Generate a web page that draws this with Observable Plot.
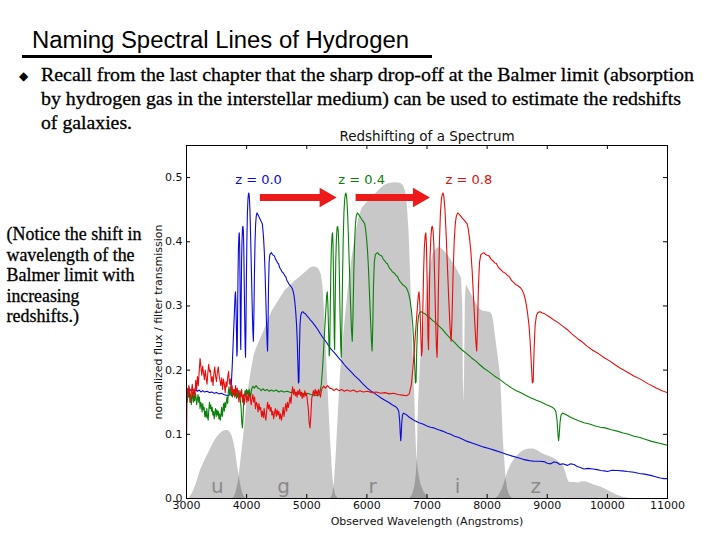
<!DOCTYPE html>
<html>
<head>
<meta charset="utf-8">
<script src="https://cdn.jsdelivr.net/npm/d3@7"></script>
<script src="https://cdn.jsdelivr.net/npm/@observablehq/plot@0.6"></script>
<style>
  html, body { margin: 0; padding: 0; background: #fff; }
  #page { position: relative; width: 720px; height: 540px; overflow: hidden; background: #fff; }
  #page svg { position: absolute; left: 0; top: 0; }
</style>
</head>
<body>
<div id="page"></div>
<script>
// ---------------- slide text ----------------
const slideTitle = "Naming Spectral Lines of Hydrogen";
const bulletLines = [
  "Recall from the last chapter that the sharp drop-off at the Balmer limit (absorption",
  "by hydrogen gas in the interstellar medium) can be used to estimate the redshifts",
  "of galaxies."
];
const noteLines = ["(Notice the shift in", "wavelength of the", "Balmer limit with", "increasing", "redshifts.)"];

// ---------------- chart text ----------------
const chartTitle = "Redshifting of a Spectrum";
const xLabel = "Observed Wavelength (Angstroms)";
const yLabel = "normalized flux / filter transmission";
const xTicks = [3000, 4000, 5000, 6000, 7000, 8000, 9000, 10000, 11000];
const yTicks = [0.0, 0.1, 0.2, 0.3, 0.4, 0.5];

// ---------------- series ----------------
const redshifts = [0.0, 0.4, 0.8];
const zLabels = ["z = 0.0", "z = 0.4", "z = 0.8"];
const zLabelX = [4198, 5912, 7696];
const zLabelY = 0.497;
const seriesColors = ["#0a0adc", "#0a800a", "#e80c0c"];

// arrows (observed wavelength of start / tip, flux level)
const arrowStart = [4420, 6012];
const arrowEnd = [5508, 7060];
const arrowY = 0.469;

// rest-frame spectrum [wavelength (A), normalized flux]
const restSpectrum = [
[1667,0.096],[1672,0.172],[1680,0.160],[1688,0.176],[1696,0.168],[1704,0.150],[1712,0.166],[1720,0.178],
[1728,0.160],[1736,0.171],[1744,0.158],[1752,0.184],[1760,0.170],[1768,0.190],[1776,0.176],[1784,0.198],
[1792,0.218],[1800,0.205],[1808,0.192],[1816,0.206],[1824,0.196],[1832,0.185],[1840,0.200],[1848,0.188],
[1856,0.178],[1864,0.196],[1872,0.209],[1880,0.197],[1888,0.200],[1896,0.182],[1904,0.190],[1912,0.176],
[1920,0.195],[1928,0.205],[1936,0.190],[1944,0.182],[1952,0.197],[1960,0.205],[1968,0.192],[1976,0.184],
[1984,0.176],[1992,0.188],[2000,0.170],[2008,0.186],[2016,0.178],[2024,0.165],[2032,0.182],[2040,0.174],
[2048,0.190],[2056,0.198],[2064,0.178],[2072,0.186],[2080,0.166],[2088,0.176],[2096,0.160],[2104,0.170],
[2112,0.158],[2120,0.176],[2128,0.164],[2136,0.172],[2144,0.160],[2152,0.150],[2160,0.168],[2168,0.158],
[2176,0.170],[2184,0.150],[2192,0.162],[2200,0.146],[2208,0.158],[2216,0.166],[2224,0.150],[2232,0.160],
[2240,0.152],[2248,0.164],[2256,0.158],[2264,0.146],[2272,0.155],[2280,0.162],[2288,0.150],[2296,0.158],
[2304,0.140],[2312,0.150],[2320,0.146],[2328,0.135],[2336,0.148],[2344,0.138],[2352,0.142],[2360,0.128],
[2368,0.136],[2376,0.126],[2384,0.140],[2392,0.128],[2400,0.122],[2408,0.138],[2416,0.150],[2424,0.140],
[2432,0.146],[2440,0.136],[2448,0.142],[2456,0.130],[2464,0.136],[2472,0.124],[2480,0.134],[2488,0.140],
[2496,0.128],[2504,0.138],[2512,0.130],[2520,0.136],[2528,0.124],[2536,0.132],[2544,0.122],[2552,0.130],
[2560,0.142],[2568,0.128],[2576,0.138],[2584,0.148],[2592,0.136],[2600,0.150],[2608,0.142],[2616,0.150],
[2624,0.158],[2632,0.148],[2640,0.166],[2648,0.174],[2656,0.162],[2664,0.170],[2672,0.160],[2680,0.166],
[2688,0.158],[2696,0.168],[2704,0.162],[2712,0.170],[2720,0.160],[2728,0.166],[2736,0.156],[2744,0.164],
[2752,0.158],[2760,0.168],[2768,0.160],[2776,0.164],[2784,0.152],[2792,0.140],[2800,0.118],[2808,0.110],
[2816,0.130],[2824,0.156],[2832,0.162],[2840,0.168],[2848,0.160],[2856,0.170],[2864,0.162],[2872,0.168],
[2880,0.160],[2888,0.170],[2896,0.164],[2904,0.158],[2912,0.166],[2920,0.172],[2935,0.175],[2950,0.172],
[2970,0.176],[2990,0.172],[3010,0.171],[3030,0.168],[3050,0.171],[3075,0.168],[3100,0.170],[3125,0.167],
[3150,0.169],[3180,0.167],[3210,0.169],[3240,0.166],[3270,0.168],[3300,0.166],[3340,0.167],[3380,0.165],
[3420,0.166],[3460,0.164],[3500,0.165],[3540,0.163],[3580,0.164],[3620,0.162],[3660,0.161],[3700,0.160],
[3725,0.163],[3745,0.178],[3760,0.205],[3775,0.240],[3790,0.275],[3800,0.298],[3808,0.316],[3815,0.322],
[3822,0.305],[3830,0.265],[3838,0.222],[3844,0.230],[3850,0.290],[3857,0.350],[3864,0.390],[3872,0.410],
[3878,0.414],[3884,0.395],[3891,0.330],[3898,0.250],[3903,0.232],[3909,0.300],[3916,0.370],[3924,0.405],
[3932,0.422],[3938,0.424],[3945,0.418],[3952,0.395],[3960,0.340],[3968,0.280],[3976,0.235],[3982,0.220],
[3989,0.270],[3996,0.340],[4004,0.400],[4013,0.445],[4022,0.466],[4030,0.474],[4037,0.476],[4045,0.470],
[4055,0.450],[4066,0.410],[4078,0.360],[4090,0.310],[4102,0.265],[4112,0.245],[4120,0.280],[4130,0.350],
[4140,0.400],[4150,0.428],[4160,0.440],[4172,0.445],[4185,0.443],[4200,0.440],[4215,0.437],[4230,0.434],
[4245,0.431],[4260,0.428],[4270,0.420],[4282,0.405],[4294,0.385],[4306,0.355],[4318,0.315],[4330,0.275],
[4340,0.245],[4348,0.230],[4356,0.270],[4364,0.330],[4374,0.368],[4386,0.380],[4400,0.382],[4415,0.383],
[4430,0.380],[4445,0.379],[4462,0.378],[4480,0.373],[4500,0.370],[4515,0.367],[4530,0.366],[4545,0.361],
[4560,0.358],[4575,0.356],[4590,0.353],[4605,0.352],[4620,0.350],[4635,0.347],[4650,0.346],[4665,0.341],
[4680,0.338],[4695,0.336],[4710,0.333],[4725,0.332],[4740,0.330],[4755,0.328],[4770,0.324],[4785,0.318],
[4800,0.308],[4815,0.293],[4830,0.272],[4842,0.245],[4852,0.212],[4862,0.180],[4870,0.182],[4878,0.230],
[4888,0.270],[4900,0.285],[4915,0.290],[4935,0.291],[4955,0.289],[4975,0.288],[5000,0.285],[5030,0.282],
[5062,0.278],[5100,0.274],[5140,0.269],[5186,0.263],[5230,0.256],[5281,0.249],[5330,0.243],[5370,0.237],
[5420,0.231],[5480,0.225],[5530,0.219],[5580,0.214],[5630,0.208],[5676,0.203],[5730,0.198],[5800,0.191],
[5860,0.186],[5930,0.179],[6007,0.172],[6060,0.168],[6110,0.165],[6170,0.161],[6230,0.157],[6300,0.153],
[6360,0.150],[6420,0.146],[6478,0.143],[6510,0.140],[6530,0.136],[6545,0.122],[6556,0.100],[6563,0.090],
[6570,0.098],[6580,0.118],[6592,0.130],[6610,0.133],[6650,0.131],[6700,0.127],[6750,0.124],[6800,0.121],
[6866,0.118],[6930,0.116],[7000,0.113],[7060,0.111],[7115,0.110],[7190,0.107],[7261,0.105],[7330,0.102],
[7393,0.100],[7459,0.097],[7530,0.095],[7600,0.092],[7670,0.089],[7760,0.086],[7856,0.083],[7947,0.080],
[8030,0.078],[8130,0.075],[8225,0.072],[8320,0.069],[8420,0.066],[8502,0.064],[8600,0.061],[8700,0.059],
[8780,0.058],[8860,0.058],[8945,0.0575],[9000,0.055],[9057,0.054],[9110,0.057],[9160,0.056],[9210,0.053],
[9260,0.054],[9334,0.0516],[9390,0.054],[9445,0.053],[9500,0.050],[9560,0.048],[9612,0.046],[9680,0.047],
[9760,0.046],[9830,0.045],[9889,0.0437],[9950,0.043],[10000,0.042],[10080,0.044],[10166,0.0437],[10250,0.043],
[10330,0.042],[10443,0.041],[10530,0.039],[10620,0.038],[10720,0.036],[10800,0.034],[10880,0.032],[10943,0.031],
[11000,0.031]
];

// ---------------- SDSS filter curves [observed wavelength, transmission] ----------------
const filterNames = ["u", "g", "r", "i", "z"];
const filterLabelX = [3511, 4614, 6095, 7509, 8807];
const uFilter = [[3040,0],[3100,0.008],[3160,0.022],[3233,0.044],[3320,0.062],[3400,0.077],[3460,0.088],[3511,0.096],
  [3560,0.101],[3600,0.104],[3650,0.106],[3690,0.106],[3730,0.103],[3760,0.097],[3790,0.087],[3815,0.074],[3840,0.057],
  [3870,0.038],[3900,0.022],[3927,0.010],[3955,0.004],[3990,0]];
const gFilter = [[3780,0],[3820,0.008],[3860,0.025],[3900,0.055],[3930,0.080],[3954,0.100],[3980,0.125],[4010,0.155],
  [4037,0.174],[4080,0.200],[4120,0.221],[4160,0.233],[4200,0.242],[4259,0.254],[4350,0.275],[4426,0.292],[4500,0.303],
  [4580,0.315],[4647,0.325],[4720,0.331],[4800,0.338],[4925,0.348],[5000,0.354],[5060,0.359],[5118,0.361],[5170,0.360],
  [5210,0.356],[5245,0.348],[5270,0.330],[5290,0.300],[5310,0.260],[5330,0.220],[5350,0.180],[5375,0.130],[5400,0.085],
  [5425,0.045],[5450,0.018],[5480,0.005],[5520,0]];
const rFilter = [[5400,0],[5430,0.006],[5460,0.025],[5485,0.060],[5507,0.100],[5535,0.150],[5562,0.195],[5600,0.240],
  [5646,0.285],[5700,0.335],[5750,0.372],[5784,0.393],[5830,0.420],[5867,0.438],[5920,0.452],[5990,0.460],[6061,0.466],
  [6140,0.474],[6220,0.482],[6300,0.488],[6380,0.491],[6470,0.492],[6560,0.491],[6610,0.487],[6645,0.478],[6670,0.460],
  [6699,0.420],[6720,0.370],[6740,0.310],[6760,0.245],[6780,0.195],[6800,0.150],[6815,0.100],[6830,0.065],[6860,0.040],
  [6900,0.022],[6950,0.010],[7032,0]];
const iFilter = [[6720,0],[6760,0.006],[6800,0.020],[6825,0.040],[6838,0.065],[6860,0.150],[6890,0.210],[6930,0.250],
  [6965,0.290],[7000,0.325],[7060,0.365],[7100,0.380],[7143,0.388],[7200,0.391],[7250,0.389],[7300,0.384],[7365,0.377],
  [7420,0.369],[7476,0.361],[7530,0.351],[7575,0.343],[7595,0.300],[7605,0.180],[7615,0.148],[7625,0.200],[7638,0.310],
  [7655,0.333],[7700,0.325],[7754,0.315],[7809,0.306],[7860,0.297],[7920,0.292],[7990,0.291],[8050,0.290],[8086,0.286],
  [8110,0.275],[8140,0.252],[8169,0.231],[8200,0.210],[8225,0.190],[8240,0.160],[8253,0.127],[8268,0.095],[8281,0.075],
  [8300,0.050],[8320,0.028],[8340,0.015],[8370,0.006],[8420,0]];
const zFilter = [[8150,0],[8200,0.005],[8250,0.014],[8300,0.028],[8350,0.042],[8400,0.053],[8474,0.064],[8550,0.071],
  [8620,0.075],[8700,0.077],[8780,0.077],[8850,0.074],[8900,0.071],[8960,0.068],[9030,0.066],[9100,0.063],[9168,0.059],
  [9230,0.054],[9278,0.049],[9310,0.040],[9340,0.030],[9370,0.025],[9450,0.025],[9520,0.024],[9580,0.026],[9640,0.026],
  [9700,0.024],[9780,0.021],[9889,0.018],[9980,0.014],[10080,0.009],[10166,0.005],[10260,0.002],[10380,0]];
const filterCurves = [uFilter, gFilter, rFilter, iFilter, zFilter];

// ---------------- build chart ----------------
const W = 720, H = 540;
const mL = 186, mR = 53, mT = 145, mB = 42;
const frameW = W - mL - mR, frameH = H - mT - mB;
const tickLen = 4;
const font = "DejaVu Sans, Verdana, sans-serif";
const arrowColor = "#ee1a1a";
const arrowIdx = arrowStart.map((_, i) => i);

const chart = Plot.plot({
  width: W, height: H,
  marginLeft: mL, marginRight: mR, marginTop: mT, marginBottom: mB,
  style: {background: "transparent", fontFamily: font, fontSize: "11px", color: "#111"},
  x: {domain: [3000, 11000], label: null},
  y: {domain: [0, 0.55], label: null},
  marks: [
    ...filterCurves.map(f => Plot.areaY(f, {x: d => d[0], y: d => d[1], fill: "black", fillOpacity: 0.215, curve: "linear"})),
    Plot.text(filterNames, {x: (d, i) => filterLabelX[i], text: d => d, frameAnchor: "bottom", lineAnchor: "middle",
      dy: -12, fontSize: 20, fill: "#8a8a8a", fontFamily: font}),
    ...redshifts.map((z, i) => Plot.line(restSpectrum, {
      x: d => d[0] * (1 + z), y: d => d[1], stroke: seriesColors[i], strokeWidth: 1.1, clip: true
    })),
    Plot.link(arrowIdx, {x1: i => arrowStart[i], x2: i => arrowEnd[i], y1: () => arrowY, y2: () => arrowY,
      stroke: arrowColor, strokeWidth: 7, dx: -12}),
    Plot.dot(arrowIdx, {x: i => arrowEnd[i], y: () => arrowY, symbol: "triangle", r: 7.3, rotate: 90,
      fill: arrowColor, stroke: "none", dx: -12}),
    ...zLabels.map((t, i) => Plot.text([t], {x: () => zLabelX[i], y: () => zLabelY, text: d => d,
      fill: seriesColors[i], fontSize: 13, fontFamily: font})),
    Plot.frame({stroke: "black", strokeWidth: 1}),
    Plot.ruleX(xTicks, {insetTop: frameH - tickLen, stroke: "black"}),
    Plot.ruleX(xTicks, {insetBottom: frameH - tickLen, stroke: "black"}),
    Plot.ruleY(yTicks, {insetRight: frameW - tickLen, stroke: "black"}),
    Plot.ruleY(yTicks, {insetLeft: frameW - tickLen, stroke: "black"}),
    Plot.axisX(xTicks, {tickSize: 0, tickPadding: 3, tickFormat: d => String(d), label: null, fontSize: 11}),
    Plot.axisY(yTicks, {tickSize: 0, tickPadding: 4, tickFormat: d3.format(".1f"), label: null, fontSize: 11}),
    Plot.text([chartTitle], {frameAnchor: "top", lineAnchor: "middle", textAnchor: "middle", dy: -9,
      text: d => d, fontSize: 13.5, fontFamily: font}),
    Plot.text([xLabel], {frameAnchor: "bottom", lineAnchor: "middle", textAnchor: "middle", dy: 23,
      text: d => d, fontSize: 11, fontFamily: font}),
    Plot.text([yLabel], {frameAnchor: "left", lineAnchor: "middle", textAnchor: "middle", dx: -28, rotate: -90,
      text: d => d, fontSize: 11, fontFamily: font})
  ]
});

const page = document.getElementById("page");
page.appendChild(chart);

// ---------------- slide overlay ----------------
const ov = d3.create("svg").attr("width", W).attr("height", H).style("pointer-events", "none");
ov.append("text").attr("x", 32).attr("y", 48).attr("font-family", "Liberation Sans, Arial, sans-serif")
  .attr("font-size", 23).attr("textLength", 377).attr("lengthAdjust", "spacingAndGlyphs").text(slideTitle);
ov.append("rect").attr("x", 22).attr("y", 55).attr("width", 410).attr("height", 3).attr("fill", "#000");
ov.append("text").attr("x", 19).attr("y", 80).attr("font-family", "DejaVu Sans, sans-serif")
  .attr("font-size", 12).text("\u25C6");
const bulletBase = [80.5, 104.5, 128.5];
const bulletWidth = [653, 640, 91];
bulletLines.forEach((t, i) => {
  ov.append("text").attr("x", 41).attr("y", bulletBase[i]).attr("font-family", "Liberation Serif, Times New Roman, serif")
    .attr("font-size", 19).attr("stroke", "#000").attr("stroke-width", 0.3)
    .attr("textLength", bulletWidth[i]).attr("lengthAdjust", "spacingAndGlyphs").text(t);
});
const noteBase = [240, 260.5, 281, 301.5, 322];
const noteWidth = [135, 128, 128, 73, 72.5];
noteLines.forEach((t, i) => {
  ov.append("text").attr("x", 6.5).attr("y", noteBase[i]).attr("font-family", "Liberation Serif, Times New Roman, serif")
    .attr("font-size", 18).attr("stroke", "#000").attr("stroke-width", 0.3)
    .attr("textLength", noteWidth[i]).attr("lengthAdjust", "spacingAndGlyphs").text(t);
});
page.appendChild(ov.node());
</script>
</body>
</html>
